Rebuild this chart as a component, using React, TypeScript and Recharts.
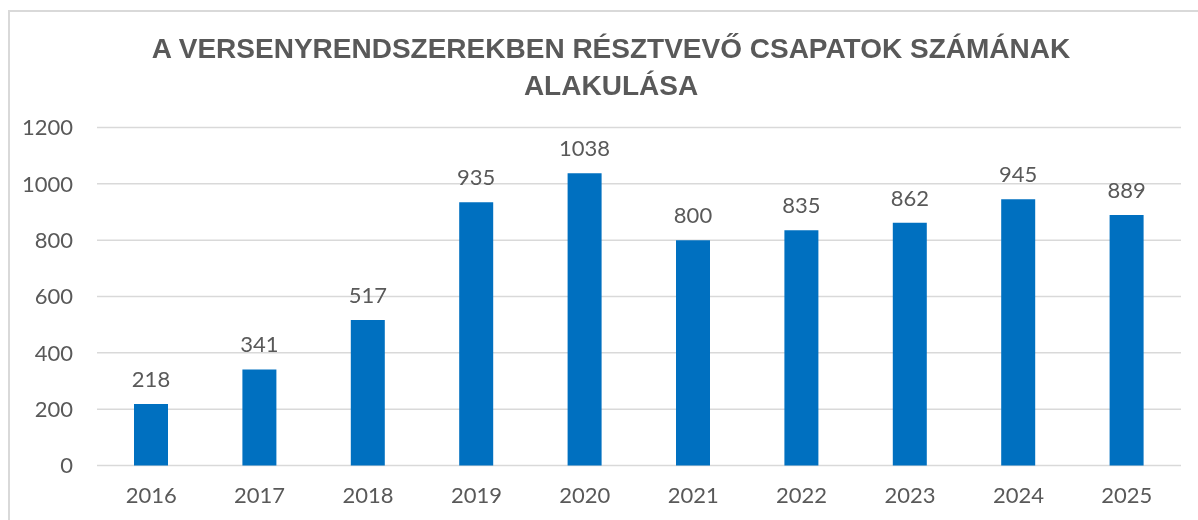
import { BarChart, Bar, XAxis, YAxis, CartesianGrid, LabelList } from 'recharts';

const years = ['2016', '2017', '2018', '2019', '2020', '2021', '2022', '2023', '2024', '2025'];
const teams = [218, 341, 517, 935, 1038, 800, 835, 862, 945, 889];
const yTicks = [0, 200, 400, 600, 800, 1000, 1200];
const titleLines = ['A VERSENYRENDSZEREKBEN RÉSZTVEVŐ CSAPATOK SZÁMÁNAK', 'ALAKULÁSA'];

const data = years.map((year, i) => ({ year, value: teams[i] }));

const TEXT = '#595959';
const GRID = '#d9d9d9';
const BLUE = '#0070C0';
const FONT = 'Lato, "Open Sans", sans-serif';

export default function App() {
  return (
    <div style={{ position: 'relative', width: 1182, height: 500, overflow: 'hidden' }}>
      {/* chart frame, runs past the right and bottom edges like the screenshot */}
      <div
        style={{
          position: 'fixed',
          left: 8,
          top: 10,
          width: 1300,
          height: 700,
          border: `2px solid ${GRID}`,
          boxSizing: 'border-box',
        }}
      />
      <div
        style={{
          position: 'absolute',
          left: 0,
          top: 22,
          width: 1206,
          textAlign: 'center',
          fontFamily: '"Liberation Sans", Arial, sans-serif',
          fontWeight: 'bold',
          fontSize: 28,
          lineHeight: '37px',
          color: TEXT,
        }}
      >
        {titleLines.map((t) => (
          <div key={t}>{t}</div>
        ))}
      </div>
      <div style={{ position: 'absolute', left: 0, top: 0 }}>
        <BarChart
          width={1182}
          height={500}
          data={data}
          margin={{ top: 119.5, right: 9, bottom: 0, left: 0 }}
          barSize={34}
        >
          <CartesianGrid vertical={false} stroke={GRID} strokeWidth={1.5} />
          <XAxis
            dataKey="year"
            axisLine={false}
            tickLine={false}
            tickSize={0}
            tickMargin={22}
            height={42.5}
            tick={{ fill: TEXT, fontSize: 22, fontFamily: FONT }}
          />
          <YAxis
            domain={[0, 1200]}
            ticks={yTicks}
            axisLine={false}
            tickLine={false}
            tickSize={0}
            tickMargin={24}
            width={89}
            tick={{ fill: TEXT, fontSize: 22, fontFamily: FONT }}
          />
          <Bar dataKey="value" fill={BLUE} isAnimationActive={false}>
            <LabelList
              dataKey="value"
              position="top"
              offset={17}
              fill={TEXT}
              fontSize={22}
              fontFamily={FONT}
            />
          </Bar>
        </BarChart>
      </div>
    </div>
  );
}
